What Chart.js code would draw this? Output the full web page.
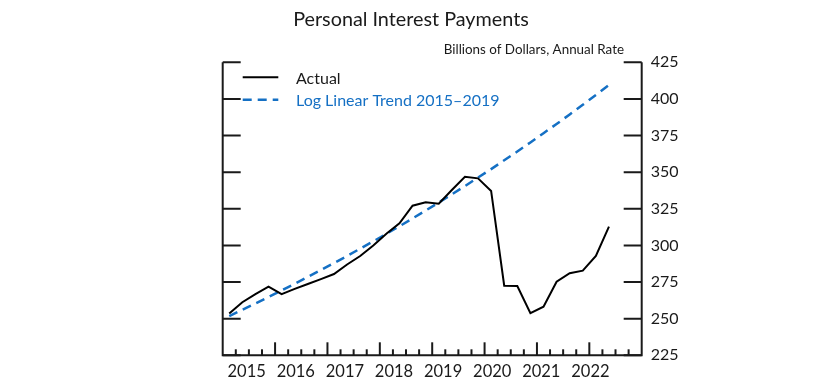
<!DOCTYPE html>
<html>
<head>
<meta charset="utf-8">
<script src="https://cdn.jsdelivr.net/npm/chart.js@4.4.1/dist/chart.umd.min.js"></script>
<style>
  html, body { margin: 0; padding: 0; background: #fff; }
  canvas { display: block; }
</style>
</head>
<body>
<canvas id="chart" width="838" height="392"></canvas>
<script>
"use strict";

// data
const quarters = [
  "2015Q1", "2015Q2", "2015Q3", "2015Q4",
  "2016Q1", "2016Q2", "2016Q3", "2016Q4",
  "2017Q1", "2017Q2", "2017Q3", "2017Q4",
  "2018Q1", "2018Q2", "2018Q3", "2018Q4",
  "2019Q1", "2019Q2", "2019Q3", "2019Q4",
  "2020Q1", "2020Q2", "2020Q3", "2020Q4",
  "2021Q1", "2021Q2", "2021Q3", "2021Q4",
  "2022Q1", "2022Q2",
];
const actual = [
  253.5, 261.2, 266.8, 271.8,
  266.8, 270.3, 273.7, 277.0,
  280.5, 287.0, 292.8, 300.0,
  308.0, 315.1, 327.1, 329.4,
  328.5, 337.8, 346.9, 345.8,
  337.2, 272.5, 272.3, 253.7,
  258.2, 275.2, 281.0, 282.8,
  292.8, 312.8,
];
const trend = [
  251.8, 256.1, 260.4, 264.8,
  269.3, 273.8, 278.5, 283.2,
  288.0, 292.8, 297.8, 302.8,
  307.9, 313.1, 318.4, 323.8,
  329.3, 334.9, 340.5, 346.3,
  352.1, 358.1, 364.1, 370.3,
  376.6, 382.9, 389.4, 396.0,
  402.7, 409.5,
];
const yearLabels = ["2015", "2016", "2017", "2018", "2019", "2020", "2021", "2022"];
const yTicks = [225, 250, 275, 300, 325, 350, 375, 400, 425];

const BLUE = "#1570c4";
const INK = "#1a1a1a";

// quarter label -> decimal year at mid quarter
function qToX(q) {
  return Number(q.slice(0, 4)) + (Number(q.slice(5)) - 0.5) / 4;
}

Chart.defaults.font.family = "Lato";
Chart.defaults.color = INK;

// frame, inward ticks, title and legend
const decor = {
  id: "decor",
  afterDraw(chart) {
    const { ctx, chartArea: a, scales } = chart;
    const x = scales.x, y = scales.y;
    ctx.save();
    ctx.strokeStyle = INK;
    ctx.lineWidth = 2;
    ctx.lineCap = "butt";

    ctx.beginPath();
    ctx.moveTo(a.left, a.top);
    ctx.lineTo(a.left, a.bottom);
    ctx.lineTo(a.right, a.bottom);
    ctx.lineTo(a.right, a.top);
    ctx.stroke();

    // y ticks on both sides
    yTicks.forEach((v) => {
      const py = y.getPixelForValue(v);
      ctx.beginPath();
      ctx.moveTo(a.left, py);
      ctx.lineTo(a.left + 18, py);
      ctx.moveTo(a.right, py);
      ctx.lineTo(a.right - 18, py);
      ctx.stroke();
    });

    // quarter ticks, taller at year breaks
    for (let t = x.min + 0.25; t < x.max - 0.01; t += 0.25) {
      const px = x.getPixelForValue(t);
      const major = Math.abs(t - Math.round(t)) < 0.01;
      ctx.beginPath();
      ctx.moveTo(px, a.bottom);
      ctx.lineTo(px, a.bottom - (major ? 13 : 6));
      ctx.stroke();
    }

    // title + units
    ctx.fillStyle = INK;
    ctx.textBaseline = "alphabetic";
    ctx.textAlign = "center";
    ctx.font = "19.8px Lato";
    ctx.fillText("Personal Interest Payments", 411, 26);
    ctx.textAlign = "right";
    ctx.font = "13.4px Lato";
    ctx.fillText("Billions of Dollars, Annual Rate", 624, 54);

    // legend
    const rows = [83.7, 106.3];
    chart.data.datasets.forEach((ds, i) => {
      const ly = rows[i] - 6.5;
      ctx.strokeStyle = ds.borderColor;
      ctx.lineWidth = ds.borderWidth;
      ctx.setLineDash(ds.borderDash || []);
      ctx.beginPath();
      ctx.moveTo(242.7, ly);
      ctx.lineTo(278.3, ly);
      ctx.stroke();
      ctx.setLineDash([]);
      ctx.fillStyle = i === 0 ? INK : BLUE;
      ctx.textAlign = "left";
      ctx.font = "16px Lato";
      ctx.fillText(ds.label, 296, rows[i]);
    });
    ctx.restore();
  },
};

new Chart(document.getElementById("chart"), {
  type: "line",
  data: {
    datasets: [
      {
        label: "Actual",
        data: quarters.map((q, i) => ({ x: qToX(q), y: actual[i] })),
        borderColor: "#000",
        borderWidth: 2,
        pointRadius: 0,
        tension: 0,
      },
      {
        label: "Log Linear Trend 2015\u20132019",
        data: quarters.map((q, i) => ({ x: qToX(q), y: trend[i] })),
        borderColor: BLUE,
        borderWidth: 2.5,
        borderDash: [9, 6],
        pointRadius: 0,
        tension: 0,
      },
    ],
  },
  options: {
    responsive: false,
    animation: false,
    devicePixelRatio: 1,
    layout: {
      padding: { left: 222.7, top: 62.3, right: 156.3, bottom: 0 },
    },
    plugins: {
      legend: { display: false },
      tooltip: { enabled: false },
    },
    scales: {
      x: {
        type: "linear",
        min: 2015,
        max: 2023,
        grid: { display: false, drawTicks: false },
        border: { display: false },
        afterBuildTicks: (s) => {
          // labels in the original drift a little left of the year centres
          s.ticks = yearLabels.map((yr, i) => ({ value: 2015.458 + 0.9375 * i, label: yr }));
        },
        ticks: {
          autoSkip: false,
          maxRotation: 0,
          padding: 6,
          font: { size: 16.5 },
          callback: function (v, i) {
            return yearLabels[i];
          },
        },
        afterFit: (s) => {
          s.height = 36.7;
        },
      },
      y: {
        position: "right",
        min: 225,
        max: 425,
        grid: { display: false, drawTicks: false },
        border: { display: false },
        ticks: { stepSize: 25, padding: 9, font: { size: 16 } },
        afterFit: (s) => {
          s.width = 40;
        },
      },
    },
  },
  plugins: [decor],
});
</script>
</body>
</html>
